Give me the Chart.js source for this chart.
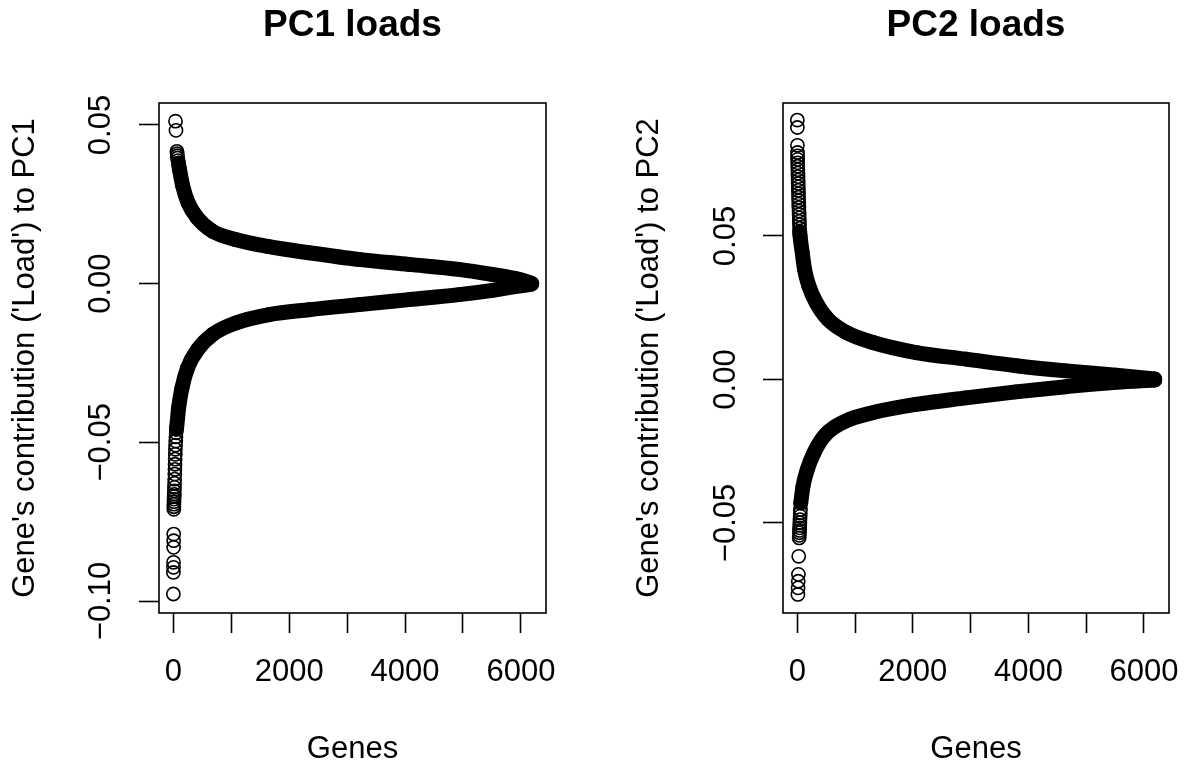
<!DOCTYPE html>
<html>
<head>
<meta charset="utf-8">
<script src="https://cdn.jsdelivr.net/npm/chart.js@4.4.1/dist/chart.umd.min.js"></script>
<style>
    html, body { margin: 0; padding: 0; background: #fff; overflow: hidden; }
    #wrap { position: relative; width: 1184px; height: 763px; overflow: hidden; }
    canvas { position: absolute; top: 0; }
    #pc1 { left: 0; }
    #pc2 { left: 592px; }
</style>
</head>
<body>
<div id="wrap">
    <canvas id="pc1" width="592" height="763"></canvas>
    <canvas id="pc2" width="592" height="763"></canvas>
</div>
<script>
const xTicks = [0, 1000, 2000, 3000, 4000, 5000, 6000];
const xTickLabels = ['0', '', '2000', '', '4000', '', '6000'];
const pc1YTicks = [-0.10, -0.05, 0.00, 0.05];
const pc2YTicks = [-0.05, 0.00, 0.05];

// genes ranked by |load|; positive and negative loads make the two arms
// *BandFrom = first index where the circles pile up into a solid band
const pc1PosRank = [38, 46, 62, 66, 70, 74, 80, 88, 107, 164, 255, 411, 670, 1074, 1649, 2339, 3202, 4065, 4928, 5503, 5964, 6186];
const pc1PosLoad = [0.0512, 0.0483, 0.0417, 0.0410, 0.0403, 0.0396, 0.0388, 0.0380, 0.0360, 0.0307, 0.0255, 0.0208, 0.0166, 0.0139, 0.01164, 0.00975, 0.00764, 0.00607, 0.0045, 0.0029, 0.00136, 0.0001];
const pc1PosBandFrom = 7;

const pc1NegRank = [1, 2, 3, 4, 5, 6, 7, 9, 10, 11, 12, 13, 15, 16, 18, 20, 22, 24, 26, 28, 30, 32, 34, 36, 39, 42, 45, 49, 53, 57, 92, 150, 247, 419, 678, 1081, 1655, 2345, 3207, 4069, 4931, 5505, 6186];
const pc1NegLoad = [-0.0978, -0.0910, -0.0894, -0.0878, -0.0831, -0.0810, -0.0789, -0.0711, -0.0703, -0.0695, -0.0687, -0.0679, -0.0671, -0.0664, -0.0653, -0.0642, -0.0629, -0.0616, -0.0600, -0.0585, -0.0569, -0.0553, -0.0538, -0.0522, -0.0509, -0.0496, -0.0483, -0.0470, -0.0459, -0.0454, -0.0391, -0.0328, -0.0265, -0.0208, -0.0160, -0.01237, -0.00975, -0.0082, -0.0066, -0.00503, -0.00346, -0.0021, -0.0001];
const pc1NegBandFrom = 28;

const pc2PosRank = [1, 2, 3, 4, 5, 6, 7, 9, 10, 12, 13, 15, 16, 18, 19, 21, 22, 24, 26, 28, 30, 32, 34, 36, 38, 40, 42, 48, 85, 126, 200, 327, 529, 846, 1308, 2057, 2922, 3787, 4652, 5517, 6186];
const pc2PosLoad = [0.0904, 0.0878, 0.0816, 0.0791, 0.0779, 0.0767, 0.0755, 0.0743, 0.0731, 0.0719, 0.0707, 0.0695, 0.0683, 0.0671, 0.0659, 0.0647, 0.0635, 0.0623, 0.0611, 0.0599, 0.0587, 0.0575, 0.0563, 0.0551, 0.0539, 0.0527, 0.0515, 0.0501, 0.0443, 0.0384, 0.0326, 0.0268, 0.0210, 0.0164, 0.0129, 0.0094, 0.0071, 0.0048, 0.0030, 0.0015, 0.0002];
const pc2PosBandFrom = 26;

const pc2NegRank = [11, 14, 17, 20, 25, 33, 35, 37, 39, 41, 43, 45, 47, 50, 52, 55, 60, 99, 173, 289, 490, 837, 1300, 2050, 2917, 3783, 4650, 5516, 6186];
const pc2NegLoad = [-0.0749, -0.0726, -0.0703, -0.0679, -0.0616, -0.0552, -0.0543, -0.0534, -0.0526, -0.0517, -0.0508, -0.0499, -0.0488, -0.0476, -0.0465, -0.0453, -0.0430, -0.0372, -0.0314, -0.0255, -0.0192, -0.0145, -0.0116, -0.0087, -0.0064, -0.0043, -0.0025, -0.00094, -0.0002];
const pc2NegBandFrom = 16;

const FONT = "'Liberation Sans', Arial, Helvetica, sans-serif";
Chart.defaults.font.family = FONT;
Chart.defaults.color = '#000';

const boxPlugin = {
    id: 'box',
    afterDatasetsDraw(chart) {
        const {ctx, chartArea} = chart;
        ctx.save();
        ctx.strokeStyle = '#000';
        ctx.lineWidth = 1.6;
        ctx.strokeRect(chartArea.left, chartArea.top, chartArea.right - chartArea.left, chartArea.bottom - chartArea.top);
        ctx.restore();
    }
};

function toPoints(ranks, loads) {
    return ranks.map((r, i) => ({x: r, y: loads[i]}));
}

function circles(points) {
    return {
        data: points,
        showLine: false,
        pointRadius: 6.6,
        pointHoverRadius: 6.6,
        pointBorderWidth: 1.6,
        pointBorderColor: '#000',
        pointBackgroundColor: 'rgba(0,0,0,0)'
    };
}

function band(points) {
    return {
        data: points,
        showLine: true,
        fill: false,
        borderColor: '#000',
        borderWidth: 15,
        borderCapStyle: 'round',
        borderJoinStyle: 'round',
        cubicInterpolationMode: 'monotone',
        pointRadius: 0,
        pointHoverRadius: 0
    };
}

function makeChart(id, opts) {
    const pos = toPoints(opts.posRank, opts.posLoad);
    const neg = toPoints(opts.negRank, opts.negLoad);

    return new Chart(document.getElementById(id), {
        type: 'scatter',
        data: {
            datasets: [
                circles(pos),
                circles(neg),
                band(pos.slice(opts.posBandFrom)),
                band(neg.slice(opts.negBandFrom))
            ]
        },
        options: {
            responsive: false,
            animation: false,
            devicePixelRatio: 1,
            events: [],
            layout: {padding: {left: 0, right: opts.padRight, top: 0, bottom: 0}},
            plugins: {
                legend: {display: false},
                tooltip: {enabled: false},
                title: {
                    display: true,
                    text: opts.title,
                    fullSize: false,
                    color: '#000',
                    font: {size: 37, weight: 'bold'},
                    padding: {top: 3.3, bottom: 55.3}
                }
            },
            scales: {
                x: {
                    type: 'linear',
                    min: -247,
                    max: 6433,
                    afterBuildTicks: (scale) => {
                        scale.ticks = xTicks.map(v => ({value: v}));
                    },
                    afterFit: (scale) => {
                        scale.height = 150;
                    },
                    ticks: {
                        autoSkip: false,
                        maxRotation: 0,
                        minRotation: 0,
                        padding: 0,
                        color: '#000',
                        // tall line box pushes the labels down instead of padding,
                        // so the last label does not eat into the plot width
                        font: {size: 31, lineHeight: 2.555},
                        callback: (value) => xTickLabels[xTicks.indexOf(value)]
                    },
                    grid: {
                        drawOnChartArea: false,
                        drawTicks: true,
                        tickLength: 20,
                        tickColor: '#000',
                        tickWidth: 1.6
                    },
                    border: {display: false},
                    title: {
                        display: true,
                        text: 'Genes',
                        color: '#000',
                        font: {size: 31, lineHeight: 0.8},
                        padding: {top: 0, bottom: 1.3}
                    }
                },
                y: {
                    type: 'linear',
                    min: opts.yMin,
                    max: opts.yMax,
                    afterBuildTicks: (scale) => {
                        scale.ticks = opts.yTicks.map(v => ({value: v}));
                    },
                    afterFit: (scale) => {
                        scale.width = opts.axisWidth;
                    },
                    ticks: {
                        autoSkip: false,
                        minRotation: 90,
                        maxRotation: 90,
                        crossAlign: 'center',
                        padding: opts.yTickPad,
                        color: '#000',
                        font: {size: 31},
                        callback: (value) => value.toFixed(2).replace('-', '\u2212')
                    },
                    grid: {
                        drawOnChartArea: false,
                        drawTicks: true,
                        tickLength: 20,
                        tickColor: '#000',
                        tickWidth: 1.6
                    },
                    border: {display: false},
                    title: {
                        display: true,
                        text: opts.yTitle,
                        color: '#000',
                        font: {size: 31, lineHeight: 0.8},
                        padding: {top: opts.yTitlePad, bottom: 0}
                    }
                }
            }
        },
        plugins: [boxPlugin]
    });
}

makeChart('pc1', {
    title: 'PC1 loads',
    yTitle: "Gene's contribution ('Load') to PC1",
    yTicks: pc1YTicks,
    yMin: -0.10378,
    yMax: 0.05693,
    axisWidth: 159,
    padRight: 46,
    yTickPad: -2,
    yTitlePad: 13.3,
    posRank: pc1PosRank, posLoad: pc1PosLoad, posBandFrom: pc1PosBandFrom,
    negRank: pc1NegRank, negLoad: pc1NegLoad, negBandFrom: pc1NegBandFrom
});

makeChart('pc2', {
    title: 'PC2 loads',
    yTitle: "Gene's contribution ('Load') to PC2",
    yTicks: pc2YTicks,
    yMin: -0.08136,
    yMax: 0.09634,
    axisWidth: 191,
    padRight: 15,
    yTickPad: -2.7,
    yTitlePad: 44.8,
    posRank: pc2PosRank, posLoad: pc2PosLoad, posBandFrom: pc2PosBandFrom,
    negRank: pc2NegRank, negLoad: pc2NegLoad, negBandFrom: pc2NegBandFrom
});
</script>
</body>
</html>
